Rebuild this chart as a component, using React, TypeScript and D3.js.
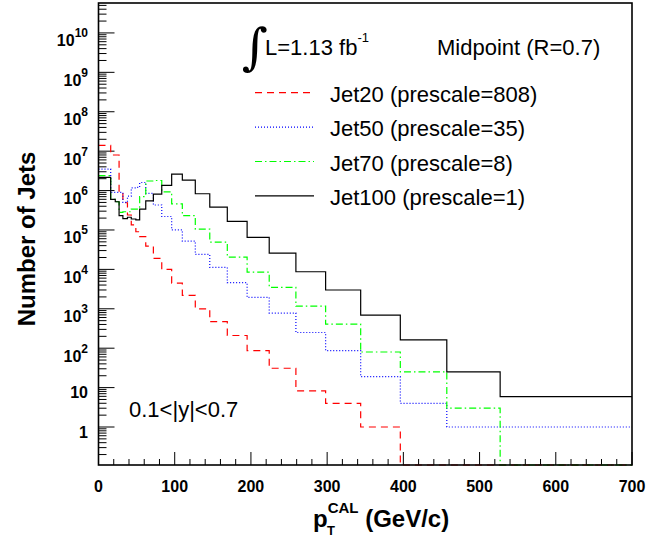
import React from "react";
import * as d3 from "d3";

// bin edges (GeV/c)
const X_EDGES = [0, 16, 22, 27, 32, 38, 43, 49, 54, 62, 72, 83, 96, 110, 127, 146, 169, 195, 224, 259, 298, 344, 396, 457, 527, 700];

// bin contents (Number of Jets)
const JET20 = [1.4e7, 8e6, 8e6, 9e5, 4.9e5, 2.4e5, 1.35e5, 9e4, 6.8e4, 3.9e4, 1.9e4, 1e4, 4.5e3, 2.2e3, 1.0e3, 470, 210, 87, 31, 8.3, 4.0, 1, 0, 0, 0];
const JET50 = [3.5e6, 9e5, 9e5, 9e5, 5e5, 7.2e5, 1.17e6, 1.2e6, 1.6e6, 8.5e5, 4.3e5, 2.2e5, 1e5, 5.2e4, 2.4e4, 1.12e4, 4.6e3, 1.95e3, 780, 250, 87, 19, 4.0, 1, 1];
const JET70 = [2.4e6, 6e5, 5.2e5, 2.8e5, 2.9e5, 2.9e5, 3.4e5, 3.4e5, 7e5, 1.75e6, 1.8e6, 9.3e5, 4.6e5, 2.3e5, 1.05e5, 4.9e4, 2.05e4, 8.5e3, 3.5e3, 1.17e3, 410, 80, 25, 3.0, 0];
const JET100 = [2.15e6, 6e5, 5.2e5, 2.3e5, 1.95e5, 2.1e5, 1.9e5, 1.8e5, 3.4e5, 5.5e5, 8.1e5, 1.35e6, 2.6e6, 1.85e6, 8.3e5, 3.8e5, 1.66e5, 6.5e4, 2.6e4, 8.7e3, 3.0e3, 690, 162, 25, 5.9];

const LEGEND_LABELS = ["Jet20 (prescale=808)", "Jet50 (prescale=35)", "Jet70 (prescale=8)", "Jet100 (prescale=1)"];
const Y_DECADES = [0, 1, 2, 3, 4, 5, 6, 7, 8, 9, 10];
const X_MAJOR = [0, 100, 200, 300, 400, 500, 600, 700];

const W = 670;
const H = 541;
const FL = 98.5, FR = 632, FT = 3, FB = 465;
const Y_MIN = 0.1086, Y_MAX = 5.75e10;

const FONT = "'Liberation Sans', Arial, Helvetica, sans-serif";

export default function App() {
  const x = d3.scaleLinear().domain([0, 700]).range([FL, FR]);
  const y = d3.scaleLog().domain([Y_MIN, Y_MAX]).range([FB, FT]);

  const series = [
    { values: JET20, color: "#ff0000", dash: "7,5" },
    { values: JET50, color: "#0000ff", dash: "1,2" },
    { values: JET70, color: "#00ff00", dash: "7,3,1.5,3" },
    { values: JET100, color: "#000000", dash: "" },
  ];

  const line = d3
    .line<[number, number]>()
    .x((d) => x(d[0]))
    .y((d) => y(Math.max(d[1], Y_MIN)))
    .curve(d3.curveStepAfter);

  const yTicks = y.ticks(100);
  const isMajor = (v: number) => Math.abs(Math.log10(v) - Math.round(Math.log10(v))) < 1e-6;
  const xMinor = d3.range(0, 701, 20);

  return (
    <svg
      width={W}
      height={H}
      style={{ position: "fixed", left: 0, top: 0, background: "#fff" }}
      fontFamily={FONT}
    >
      <rect x={0} y={0} width={W} height={H} fill="#fff" />
      {/* y ticks */}
      {yTicks.map((t, i) => {
        const major = isMajor(t);
        return (
          <line
            key={"yt" + i}
            x1={FL}
            x2={FL + (major ? 16 : 8)}
            y1={y(t)}
            y2={y(t)}
            stroke="#000"
            strokeWidth={1}
          />
        );
      })}
      {/* x ticks */}
      {xMinor.map((t) => {
        const major = t % 100 === 0;
        return (
          <line
            key={"xt" + t}
            x1={x(t)}
            x2={x(t)}
            y1={FB}
            y2={FB - (major ? 13 : 6)}
            stroke="#000"
            strokeWidth={1}
          />
        );
      })}
      {/* y labels */}
      {Y_DECADES.map((n) => {
        const ty = y(Math.pow(10, n));
        if (n === 0 || n === 1) {
          return (
            <text key={"yl" + n} x={88} y={ty + 10.5} textAnchor="end" fontWeight="bold" fontSize={16}>
              {n === 0 ? "1" : "10"}
            </text>
          );
        }
        return (
          <text key={"yl" + n} x={88} y={ty + 13.5} textAnchor="end" fontWeight="bold" fontSize={16}>
            10
            <tspan fontSize={12} dy={-9}>
              {String(n)}
            </tspan>
          </text>
        );
      })}
      {/* x labels */}
      {X_MAJOR.map((t) => (
        <text key={"xl" + t} x={x(t)} y={492} textAnchor="middle" fontWeight="bold" fontSize={16}>
          {t}
        </text>
      ))}
      {/* axis titles */}
      <text
        transform={`translate(35,239) rotate(-90)`}
        textAnchor="middle"
        fontWeight="bold"
        fontSize={24}
      >
        Number of Jets
      </text>
      <text x={313} y={527} fontWeight="bold" fontSize={24}>
        p
        <tspan fontSize={15} dy={-14}>CAL</tspan>
        <tspan fontSize={24} dy={14}> (GeV/c)</tspan>
      </text>
      <text x={327} y={535} fontWeight="bold" fontSize={13}>
        T
      </text>
      {/* histograms */}
      {series.map((s, i) => {
        const pts: [number, number][] = X_EDGES.map((e, j) => [e, s.values[Math.min(j, s.values.length - 1)]]);
        return (
          <path
            key={"h" + i}
            d={line(pts) || ""}
            fill="none"
            stroke={s.color}
            strokeWidth={1.2}
            strokeDasharray={s.dash || undefined}
          />
        );
      })}
      {/* frame */}
      <rect x={FL} y={FT} width={FR - FL} height={FB - FT} fill="none" stroke="#000" strokeWidth={1.6} />
      {/* header */}
      <text x={242} y={64} fontSize={50} fontFamily="'DejaVu Serif', 'Liberation Serif', serif">
        ∫
      </text>
      <text x={265} y={55} fontSize={22}>
        L=1.13 fb
        <tspan fontSize={13} dy={-13}>-1</tspan>
      </text>
      <text x={437} y={55} fontSize={22}>
        Midpoint (R=0.7)
      </text>
      {/* legend */}
      {series.map((s, i) => {
        const ly = 92.7 + i * 34.4;
        return (
          <g key={"lg" + i}>
            <line x1={255} x2={314} y1={ly} y2={ly} stroke={s.color} strokeWidth={1.2} strokeDasharray={s.dash || undefined} />
            <text x={330} y={ly + 9} fontSize={22}>
              {LEGEND_LABELS[i]}
            </text>
          </g>
        );
      })}
      <text x={129} y={416.7} fontSize={22}>
        0.1&lt;|y|&lt;0.7
      </text>
    </svg>
  );
}
